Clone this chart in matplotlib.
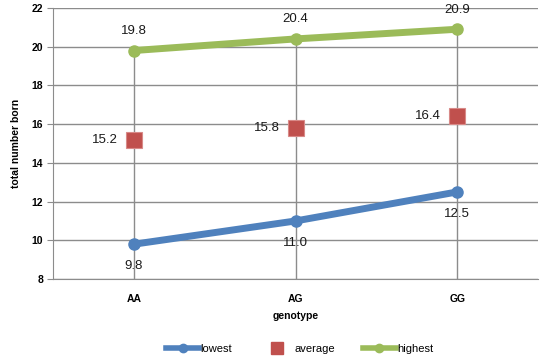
import numpy as np
import matplotlib
matplotlib.use('Agg')
import matplotlib.pyplot as plt
from matplotlib.lines import Line2D

plt.rcParams['font.family'] = ['Liberation Sans', 'DejaVu Sans']

genotypes = ['AA', 'AG', 'GG']
lowest = [9.8, 11.0, 12.5]
average = [15.2, 15.8, 16.4]
highest = [19.8, 20.4, 20.9]

blue = '#4F81BD'
red = '#C0504D'
green = '#9BBB59'
grid_c = '#8C8C8C'

fig = plt.figure(figsize=(5.5, 3.61), dpi=100)
ax = fig.add_axes([0.0964, 0.227, 0.882, 0.751])

x = np.arange(len(genotypes)) + 0.5
ax.set_xlim(0, 3)
ax.set_ylim(8, 22)
ax.set_yticks(np.arange(8, 23, 2))
ax.yaxis.grid(True, color=grid_c, lw=1)
ax.set_axisbelow(True)

# drop lines from top point down to the axis
ax.vlines(x, 8, highest, color=grid_c, lw=1, zorder=1)

ax.plot(x, lowest, color=blue, lw=5, marker='o', ms=8, solid_capstyle='round', zorder=3)
ax.plot(x, average, ls='none', marker='s', ms=11, color=red, mec='#D88A88', mew=0.8, zorder=3)
ax.plot(x, highest, color=green, lw=5, marker='o', ms=8, solid_capstyle='round', zorder=3)

for xi, v in zip(x, lowest):
    ax.annotate('%.1f' % v, (xi, v), xytext=(0, -16), textcoords='offset points',
                ha='center', va='center', fontsize=9.5, color='#1a1a1a')
for xi, v in zip(x, average):
    ax.annotate('%.1f' % v, (xi, v), xytext=(-21, 0), textcoords='offset points',
                ha='center', va='center', fontsize=9.5, color='#1a1a1a')
for xi, v in zip(x, highest):
    ax.annotate('%.1f' % v, (xi, v), xytext=(0, 14), textcoords='offset points',
                ha='center', va='center', fontsize=9.5, color='#1a1a1a')

ax.set_xticks(x)
ax.set_xticklabels(genotypes, fontsize=7.5, fontweight='bold')
ax.tick_params(axis='x', length=0, pad=11)
ax.tick_params(axis='y', labelsize=7.5, length=4, color=grid_c, pad=3)
for lbl in ax.get_yticklabels():
    lbl.set_fontweight('bold')

for s in ['top', 'right']:
    ax.spines[s].set_visible(False)
for s in ['left', 'bottom']:
    ax.spines[s].set_color(grid_c)

ax.set_ylabel('total number born', fontsize=7.5, fontweight='bold', labelpad=8)
ax.set_xlabel('genotype', fontsize=7.5, fontweight='bold', labelpad=5)

handles = [
    Line2D([], [], color=blue, lw=4, marker='o', ms=6),
    Line2D([], [], ls='none', color=red, marker='s', ms=8),
    Line2D([], [], color=green, lw=4, marker='o', ms=6),
]
fig.legend(handles, ['lowest', 'average', 'highest'], loc='center',
           bbox_to_anchor=(0.545, 0.034), ncol=3, frameon=False, fontsize=8,
           handlelength=3, handletextpad=0.1, columnspacing=2.5)

fig.savefig('out.png', dpi=100)
